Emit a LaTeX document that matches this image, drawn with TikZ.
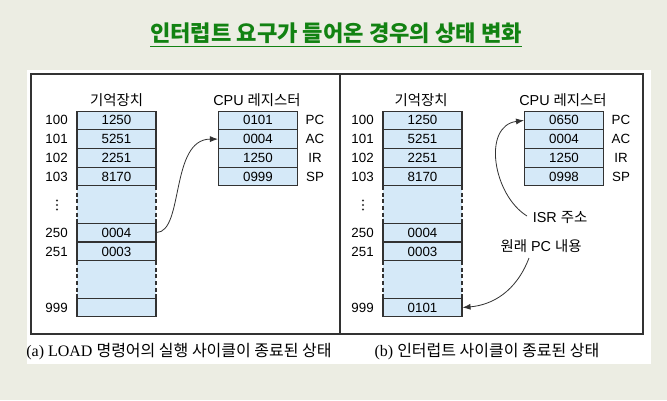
\documentclass[tikz,border=0pt]{standalone}
\usepackage{fontspec}
\setmainfont{Liberation Serif}
\setsansfont{Liberation Sans}
\newfontfamily\kr{Noto Sans CJK KR}
\usetikzlibrary{arrows.meta}
\definecolor{bgc}{RGB}{236,237,227}
\definecolor{cellc}{RGB}{213,233,248}
\definecolor{titlec}{RGB}{18,130,18}
\definecolor{linec}{RGB}{50,50,50}
\tikzset{
  cell/.style={draw=linec, line width=0.8pt, fill=cellc, minimum width=59.25pt, minimum height=14pt, inner sep=0pt, font=\sffamily\fontsize{10}{12}\selectfont},
  addr/.style={anchor=east, inner sep=0pt, font=\sffamily\fontsize{10}{12}\selectfont},
  reg/.style={anchor=center, inner sep=0pt, font=\sffamily\fontsize{10}{12}\selectfont},
  hdr/.style={inner sep=0pt, font=\sffamily\fontsize{10.8}{13}\selectfont},
  gapside/.style={draw=linec, line width=0.8pt, dash pattern=on 3pt off 2pt},
  conn/.style={draw=linec, line width=0.6pt, -{Latex[length=6pt,width=4.5pt]}},
  captext/.style={inner sep=0pt, font=\fontsize{12}{14}\selectfont}
}
\begin{document}
\begin{tikzpicture}[x=0.75pt,y=-0.75pt]
\useasboundingbox (0,0) rectangle (667,400);
\fill[bgc] (0,0) rectangle (667,400);
\fill[white] (27,70) rectangle (651,364);
% title
\node[text=titlec, inner sep=0pt, font=\kr\bfseries\fontsize{16.6}{19}\selectfont] (title) at (336,35) {\underline{인터럽트 요구가 들어온 경우의 상태 변화}};
% frame
\draw[linec, line width=1.1pt] (31,74) rectangle (643,334);
\draw[linec, line width=0.8pt] (340,74) -- (340,334);

% ===== left panel =====
\node[hdr] (hmemL) at (116.5,100) {\kr 기억장치};
\node[hdr] (hcpuL) at (257,100) {CPU {\kr 레지스터}};
\fill[cellc] (77,186) rectangle (156,223);
\fill[cellc] (77,261) rectangle (156,298);
\draw[gapside] (77,186) -- (77,223) (156,186) -- (156,223);
\draw[gapside] (77,261) -- (77,298) (156,261) -- (156,298);
\node[cell] (mL100) at (116.5,120.4) {1250};
\node[cell] (mL101) at (116.5,139.1) {5251};
\node[cell] (mL102) at (116.5,157.9) {2251};
\node[cell] (mL103) at (116.5,176.6) {8170};
\node[cell] (mL250) at (116.5,232.5) {0004};
\node[cell] (mL251) at (116.5,251.5) {0003};
\node[cell] (mL999) at (116.5,307.5) {};
\node[addr] (aL100) at (68,120.4) {100};
\node[addr] (aL101) at (68,139.1) {101};
\node[addr] (aL102) at (68,157.9) {102};
\node[addr] (aL103) at (68,176.6) {103};
\foreach \yy in {200.5,205,209.5} \fill[linec] (57,\yy) circle (1.2);
\node[addr] (aL250) at (68,232.5) {250};
\node[addr] (aL251) at (68,251.5) {251};
\node[addr] (aL999) at (68,307.5) {999};
\node[cell] (pcL) at (258,120.4) {0101};
\node[cell] (acL) at (258,139.1) {0004};
\node[cell] (irL) at (258,157.9) {1250};
\node[cell] (spL) at (258,176.6) {0999};
\node[reg] (lpcL) at (315,120.4) {PC};
\node[reg] (lacL) at (315,139.1) {AC};
\node[reg] (lirL) at (315,157.9) {IR};
\node[reg] (lspL) at (315,176.6) {SP};
\draw[conn] (mL250.east) .. controls (184,232) and (170,139.1) .. (acL.west);

% ===== right panel =====
\node[hdr] (hmemR) at (421,100) {\kr 기억장치};
\node[hdr] (hcpuR) at (563,100) {CPU {\kr 레지스터}};
\fill[cellc] (383,186) rectangle (462,223);
\fill[cellc] (383,261) rectangle (462,298);
\draw[gapside] (383,186) -- (383,223) (462,186) -- (462,223);
\draw[gapside] (383,261) -- (383,298) (462,261) -- (462,298);
\node[cell] (mR100) at (422.5,120.4) {1250};
\node[cell] (mR101) at (422.5,139.1) {5251};
\node[cell] (mR102) at (422.5,157.9) {2251};
\node[cell] (mR103) at (422.5,176.6) {8170};
\node[cell] (mR250) at (422.5,232.5) {0004};
\node[cell] (mR251) at (422.5,251.5) {0003};
\node[cell] (mR999) at (422.5,307.5) {0101};
\node[addr] (aR100) at (374,120.4) {100};
\node[addr] (aR101) at (374,139.1) {101};
\node[addr] (aR102) at (374,157.9) {102};
\node[addr] (aR103) at (374,176.6) {103};
\foreach \yy in {200.5,205,209.5} \fill[linec] (363,\yy) circle (1.2);
\node[addr] (aR250) at (374,232.5) {250};
\node[addr] (aR251) at (374,251.5) {251};
\node[addr] (aR999) at (374,307.5) {999};
\node[cell] (pcR) at (564,120.4) {0650};
\node[cell] (acR) at (564,139.1) {0004};
\node[cell] (irR) at (564,157.9) {1250};
\node[cell] (spR) at (564,176.6) {0998};
\node[reg] (lpcR) at (621,120.4) {PC};
\node[reg] (lacR) at (621,139.1) {AC};
\node[reg] (lirR) at (621,157.9) {IR};
\node[reg] (lspR) at (621,176.6) {SP};
\node[hdr] (isr) at (560,218) {ISR {\kr 주소}};
\node[hdr] (orig) at (541,246) {{\kr 원래} PC {\kr 내용}};
\coordinate (isrs) at (527,216);
\coordinate (origs) at (529,258);
\draw[conn] (isrs) .. controls (493,195) and (482,126) .. (pcR.west);
\draw[conn] (origs) .. controls (516,292) and (492,305) .. (mR999.east);

% captions
\node[captext] (capA) at (179,352) {(a) LOAD {\kr 명령어의 실행 사이클이 종료된 상태}};
\node[captext] (capB) at (487,352) {(b) {\kr 인터럽트 사이클이 종료된 상태}};
\end{tikzpicture}
\end{document}
